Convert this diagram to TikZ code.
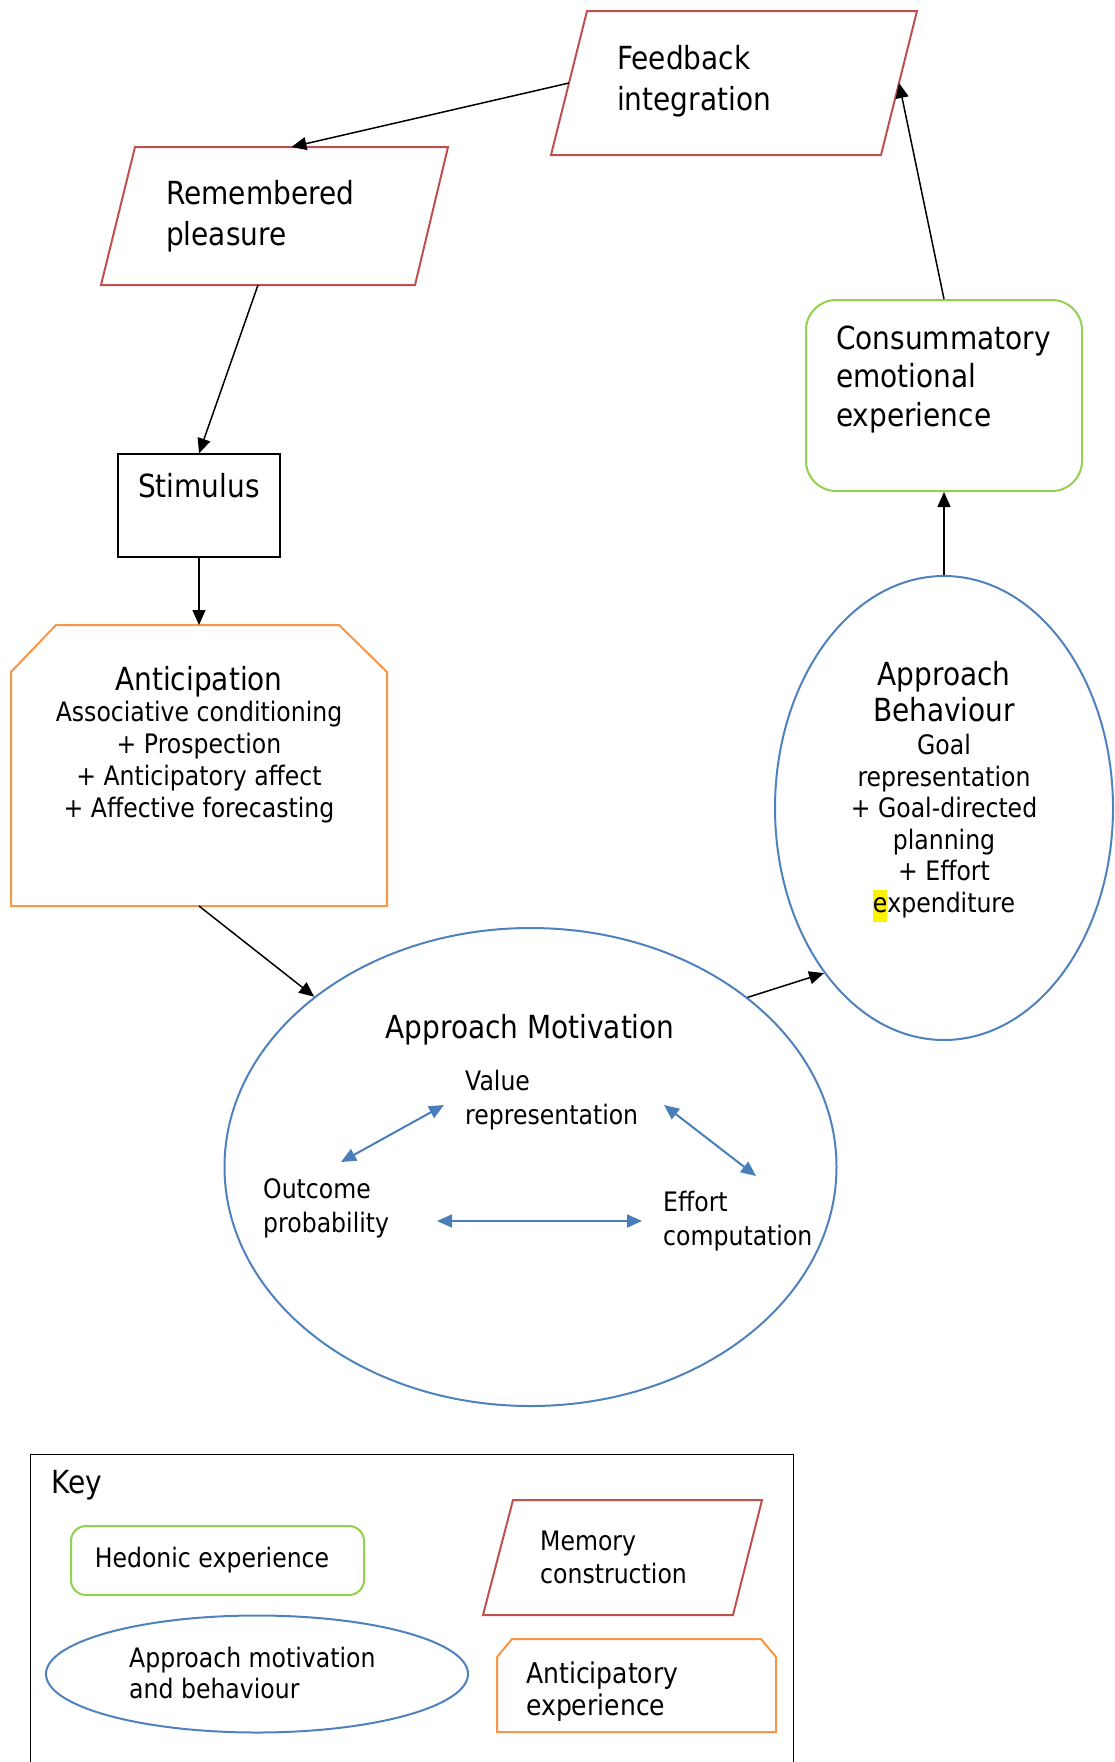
\documentclass[tikz,border=0pt]{standalone}
\usepackage{fontspec}
\setmainfont{DejaVu Sans}[FakeStretch=0.88]
\usetikzlibrary{arrows.meta,shapes.geometric}
\definecolor{memred}{HTML}{C0504D}
\definecolor{hedgreen}{HTML}{92D050}
\definecolor{antorange}{HTML}{F79646}
\definecolor{appblue}{HTML}{4F81BD}
\definecolor{linkblue}{HTML}{4A7EBB}
% font helpers: size fixed, baseline skip as argument
\newcommand{\lblLarge}[1]{\fontsize{31.8}{#1}\selectfont}
\newcommand{\lblSmall}[1]{\fontsize{26.8}{#1}\selectfont}
\begin{document}
\begin{tikzpicture}[x=1pt,y=-1pt,
  memory/.style={draw=memred, line width=2pt, line join=miter},
  hedonic/.style={draw=hedgreen, line width=2pt, rounded corners=#1},
  hedonic/.default=30pt,
  approach/.style={draw=appblue, line width=2pt, ellipse, inner sep=0pt},
  anticip/.style={draw=antorange, line width=2pt, line join=miter},
  flow/.style={-{Triangle[length=15pt,width=13pt]}, line width=1.5pt},
  link/.style={{Triangle[length=15pt,width=13pt]}-{Triangle[length=15pt,width=13pt]},
    draw=linkblue, fill=linkblue, line width=2pt},
  txt/.style={inner sep=0pt, align=left, anchor=west},
  ctxt/.style={inner sep=0pt, align=center}
]
\useasboundingbox (0,0) rectangle (1115,1762);

% ---------- memory construction shapes ----------
\draw[memory] (587,11) -- (917,11) -- (881,155) -- (551,155) -- cycle;
\coordinate (fbL) at (569,83);
\coordinate (fbR) at (899,83);
\node[txt, font=\lblLarge{41}] (fbT) at (617,81.5) {Feedback\\integration};

\draw[memory] (135,147) -- (448,147) -- (415,285) -- (101,285) -- cycle;
\coordinate (remN) at (291.5,147);
\coordinate (remS) at (258,285);
\node[txt, font=\lblLarge{41}] (remT) at (166,216) {Remembered\\pleasure};

% ---------- stimulus ----------
\node[draw, line width=1.2pt, minimum width=162pt, minimum height=103pt, inner sep=0pt] (stim) at (199,505.5) {};
\node[ctxt, font=\lblLarge{38}] (stimT) at (199,486) {Stimulus};

% ---------- anticipation ----------
\draw[anticip] (56,625) -- (339,625) -- (387,672) -- (387,906) -- (11,906) -- (11,672) -- cycle;
\coordinate (antN) at (199,625);
\coordinate (antS) at (199,906);
\node[ctxt, font=\lblLarge{38}] (antH) at (199,682) {Anticipation};
\node[ctxt, font=\lblSmall{32}] (antB) at (199,762.5) {Associative conditioning\\+ Prospection\\+ Anticipatory affect\\+ Affective forecasting};

% ---------- hedonic experience ----------
\node[hedonic, minimum width=276pt, minimum height=191pt, inner sep=0pt] (con) at (944,395.5) {};
\node[txt, font=\lblLarge{38.5}] (conT) at (836,379) {Consummatory\\emotional\\experience};

% ---------- approach behaviour ----------
\node[approach, minimum width=338pt, minimum height=464pt] (beh) at (944,808) {};
\node[ctxt, font=\lblLarge{36}] (behH) at (944,692) {Approach\\Behaviour};
\node[ctxt, font=\lblSmall{31.5}] (behB) at (944,828) {Goal\\representation\\+ Goal-directed\\planning\\+ Effort\\{\setlength{\fboxsep}{0pt}\colorbox{yellow}{\strut e}}xpenditure};

% ---------- approach motivation ----------
\node[approach, minimum width=612pt, minimum height=478pt] (mot) at (530.5,1167) {};
\node[ctxt, font=\lblLarge{38}] (motT) at (530,1029.5) {Approach Motivation};
\node[txt, font=\lblSmall{34}] (valT) at (465,1100) {Value\\representation};
\node[txt, font=\lblSmall{34}] (outT) at (263,1208) {Outcome\\probability};
\node[txt, font=\lblSmall{34}] (effT) at (663,1221) {Effort\\computation};
\coordinate (l1a) at (341,1162);
\coordinate (l1b) at (444,1105);
\coordinate (l2a) at (664,1105);
\coordinate (l2b) at (756,1176);
\coordinate (l3a) at (437,1221);
\coordinate (l3b) at (642,1221);
\draw[link] (l1a) -- (l1b);
\draw[link] (l2a) -- (l2b);
\draw[link] (l3a) -- (l3b);

% ---------- flow arrows ----------
\draw[flow] (fbL) -- (remN);
\draw[flow] (remS) -- (stim.north);
\draw[flow] (stim.south) -- (antN);
\draw[flow] (antS) -- (mot);
\draw[flow] (mot.38) -- (beh.234);
\draw[flow] (beh.north) -- (con.south);
\draw[flow] (con.north) -- (fbR);

% ---------- key ----------
\draw[line width=1pt] (30,1770) -- (30,1454) -- (793,1454) -- (793,1770);
\node[txt, font=\lblLarge{38}] (keyT) at (51,1485) {Key};
\node[hedonic=15pt, minimum width=293pt, minimum height=69pt, inner sep=0pt] (keyHed) at (217.5,1560.5) {};
\node[ctxt, font=\lblSmall{31}] (keyHedT) at (212,1560.5) {Hedonic experience};
\draw[memory] (513,1500) -- (762,1500) -- (733,1615) -- (483,1615) -- cycle;
\node[txt, font=\lblSmall{33}] (keyMemT) at (540,1557) {Memory\\construction};
\node[approach, minimum width=422pt, minimum height=117pt] (keyApp) at (257,1674) {};
\node[txt, font=\lblSmall{31}] (keyAppT) at (129,1673) {Approach motivation\\and behaviour};
\draw[anticip] (512,1639) -- (761,1639) -- (776,1657) -- (776,1732) -- (497,1732) -- (497,1657) -- cycle;
\node[txt, font=\fontsize{28.5}{32}\selectfont] (keyAntT) at (526,1691.5) {Anticipatory\\experience};
\end{tikzpicture}
\end{document}
